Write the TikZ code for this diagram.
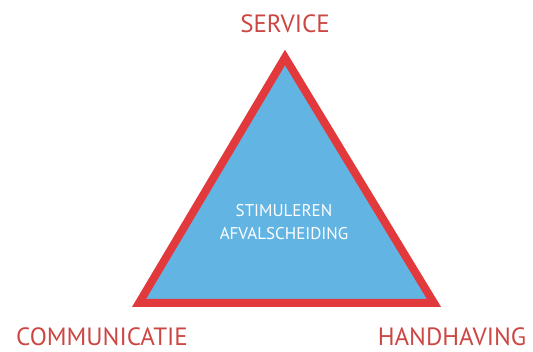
\documentclass[tikz,border=0pt]{standalone}
\usepackage{fontspec}
\setmainfont{PT Sans}
\definecolor{tri}{HTML}{E23A3C}
\definecolor{lbl}{HTML}{CC4743}
\definecolor{fillb}{HTML}{62B4E3}
\tikzset{
  corner/.style={text=lbl, font=\fontsize{25}{25}\selectfont, inner sep=0pt, anchor=base},
  inner/.style={text=white, font=\fontsize{17}{23}\selectfont, align=center, inner sep=0pt}
}
\begin{document}
\begin{tikzpicture}[x=1pt,y=-1pt]
\useasboundingbox (0,0) rectangle (533,352);
\coordinate (A) at (285,57.5);
\coordinate (B) at (139,303);
\coordinate (C) at (434,303);
\draw[tri, fill=fillb, line width=8pt, line join=miter] (A) -- (B) -- (C) -- cycle;
\node[corner] (s) at (285,33) {SERVICE};
\node[corner] (c) at (102,346) {COMMUNICATIE};
\node[corner] (h) at (452,346) {HANDHAVING};
\node[inner] (m) at (284,222) {STIMULEREN\\AFVALSCHEIDING};
\end{tikzpicture}
\end{document}
